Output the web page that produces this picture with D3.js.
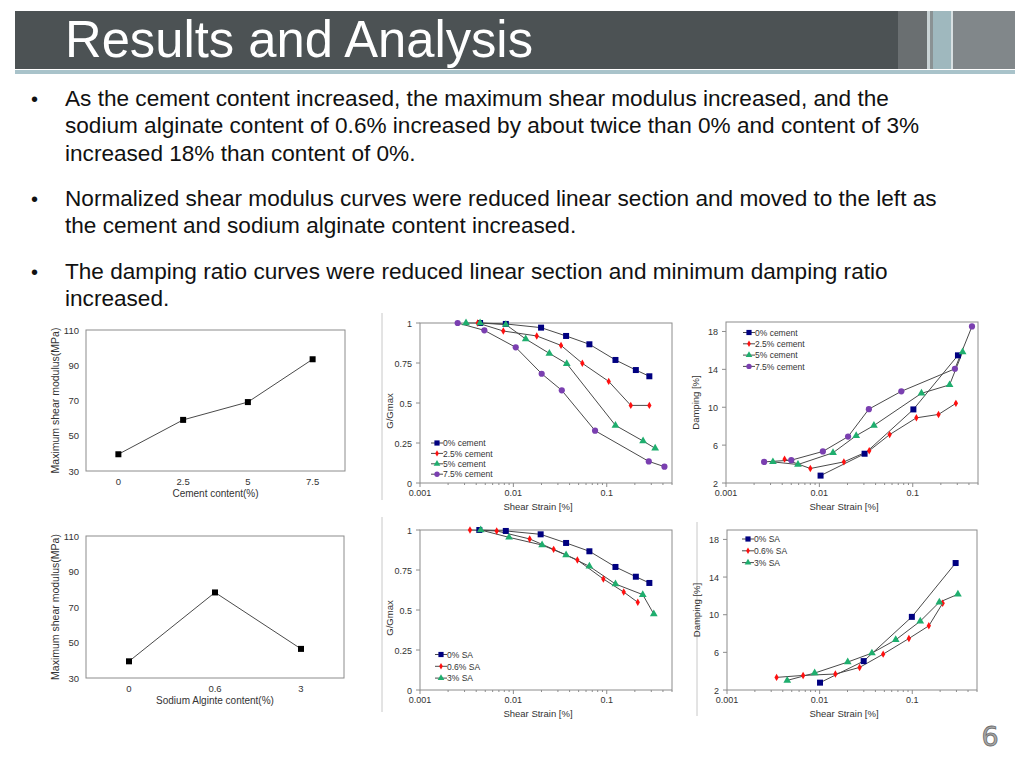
<!DOCTYPE html>
<html><head><meta charset="utf-8">
<script src="https://cdn.jsdelivr.net/npm/d3@7"></script>
<style>
body{margin:0;background:#fff;}
svg{display:block;}
</style></head>
<body>
<svg id="s" width="1024" height="768"></svg>
<script>
// ---------- DATA ----------
const titleText = "Results and Analysis";
const bullets = [
  ["As the cement content increased, the maximum shear modulus increased, and the",
   "sodium alginate content of 0.6% increased by about twice than 0% and content of 3%",
   "increased 18% than content of 0%."],
  ["Normalized shear modulus curves were reduced linear section and moved to the left as",
   "the cement and sodium alginate content increased."],
  ["The damping ratio curves were reduced linear section and minimum damping ratio",
   "increased."]
];
const cementCats = ["0","2.5","5","7.5"];
const cementGmax = [39.5, 59, 69.1, 93.4];
const saCats = ["0","0.6","3"];
const saGmax = [39.4, 78.2, 46.4];
const gmaxTicks = [30,50,70,90,110];

const cementNames = ["0% cement","2.5% cement","5% cement","7.5% cement"];
// G/Gmax vs shear strain, cement
const ggC0 = [[0.0044,1.0],[0.0083,0.994],[0.0198,0.971],[0.0367,0.919],[0.0652,0.867],[0.124,0.769],[0.205,0.706],[0.286,0.667]];
const ggC25 = [[0.00415,1.0],[0.0078,0.95],[0.0178,0.919],[0.0324,0.86],[0.0548,0.748],[0.105,0.635],[0.181,0.485],[0.286,0.485]];
const ggC5 = [[0.00311,1.0],[0.0044,1.0],[0.0083,0.99],[0.01356,0.9],[0.0243,0.81],[0.0373,0.746],[0.124,0.36],[0.245,0.2625],[0.33,0.217]];
const ggC75 = [[0.00253,1.0],[0.00489,0.954],[0.0106,0.848],[0.0201,0.683],[0.033,0.579],[0.075,0.327],[0.282,0.135],[0.415,0.102]];
// Damping vs shear strain, cement
const dC0 = [[0.0103,2.78],[0.0305,5.09],[0.1016,9.77],[0.305,15.48]];
const dC25 = [[0.00424,4.52],[0.008,3.53],[0.0183,4.23],[0.0342,5.41],[0.0566,7.11],[0.1094,8.88],[0.1888,9.24],[0.29,10.41]];
const dC5 = [[0.00318,4.23],[0.0059,3.95],[0.014,5.19],[0.0248,7.0],[0.0384,8.07],[0.124,11.47],[0.248,12.36],[0.342,15.83]];
const dC75 = [[0.00256,4.23],[0.005,4.41],[0.0109,5.33],[0.0203,6.9],[0.0339,9.8],[0.0755,11.68],[0.283,14.06],[0.431,18.53]];

const saNames = ["0% SA","0.6% SA","3%  SA"];
const ggS0 = [[0.00432,1.0],[0.0083,0.994],[0.0196,0.973],[0.0367,0.919],[0.0652,0.867],[0.124,0.769],[0.205,0.708],[0.286,0.669]];
const ggS06 = [[0.00343,1.0],[0.00663,0.994],[0.01496,0.944],[0.027,0.879],[0.0485,0.8125],[0.092,0.694],[0.152,0.6125],[0.215,0.548]];
const ggS3 = [[0.00447,1.0],[0.00899,0.954],[0.0203,0.906],[0.0367,0.844],[0.0652,0.773],[0.124,0.6625],[0.243,0.596],[0.319,0.475]];
const dS0 = [[0.0101,2.78],[0.0299,5.07],[0.099,9.77],[0.294,15.49]];
const dS06 = [[0.00343,3.34],[0.00663,3.55],[0.0148,3.7],[0.027,4.4],[0.0485,5.81],[0.092,7.47],[0.151,8.82],[0.213,11.22]];
const dS3 = [[0.00447,3.02],[0.00884,3.8],[0.0201,4.97],[0.0367,5.92],[0.0663,7.33],[0.122,9.31],[0.196,11.33],[0.311,12.17]];

const strainTicks = [0.001,0.01,0.1];
const ggTicks = [0,0.25,0.5,0.75,1];
const dampTicks = [2,6,10,14,18];

// ---------- STYLE ----------
const svg = d3.select("#s");
const FONT = "'Liberation Sans', Arial, sans-serif";
const markerColors = ["#000080","#ff1010","#1fae6e","#7a3fb0"];
const markerTypes = [d3.symbolSquare, d3.symbolDiamond, d3.symbolTriangle, d3.symbolCircle];
const markerSizes = [36, 16, 26, 30];
const lineColor = "#4a4a4a";
const txt = "#333";

// ---------- HEADER ----------
svg.append("rect").attr("x",15).attr("y",11).attr("width",883).attr("height",58).attr("fill","#4c5254");
svg.append("rect").attr("x",898).attr("y",11).attr("width",29).attr("height",58).attr("fill","#6a6f71");
svg.append("rect").attr("x",927).attr("y",11).attr("width",3).attr("height",58).attr("fill","#c9d3d5");
svg.append("rect").attr("x",930).attr("y",11).attr("width",3).attr("height",58).attr("fill","#8a9294");
svg.append("rect").attr("x",933).attr("y",11).attr("width",18).attr("height",58).attr("fill","#9fb8be");
svg.append("rect").attr("x",951).attr("y",11).attr("width",2).attr("height",58).attr("fill","#d8e0e2");
svg.append("rect").attr("x",953).attr("y",11).attr("width",62).attr("height",58).attr("fill","#81878a");
svg.append("rect").attr("x",15).attr("y",70).attr("width",1000).attr("height",4).attr("fill","#a9c3ca");
svg.append("text").attr("x",65).attr("y",57).text(titleText)
  .attr("font-family","'Liberation Sans Narrow','Arial Narrow','Liberation Sans',sans-serif")
  .attr("font-size",52).attr("fill","#fff").attr("textLength",468).attr("lengthAdjust","spacingAndGlyphs");

// ---------- BULLETS ----------
const bulletTop = [106, 206, 279];
bullets.forEach((lines,i)=>{
  svg.append("text").attr("x",31).attr("y",bulletTop[i]).text("•")
    .attr("font-family",FONT).attr("font-size",20).attr("fill","#111");
  lines.forEach((l,j)=>{
    svg.append("text").attr("x",65).attr("y",bulletTop[i]+j*27.3).text(l)
      .attr("font-family",FONT).attr("font-size",22.6).attr("fill","#111");
  });
});

// faint separators (picture borders)
[[382,313,500],[382,517,712],[697,522,716]].forEach(d=>{
  svg.append("line").attr("x1",d[0]).attr("x2",d[0]).attr("y1",d[1]).attr("y2",d[2])
    .attr("stroke","#c8c8c8").attr("stroke-width",1);
});

// ---------- CATEGORY CHARTS ----------
function catChart(box, cats, vals, xTitle){
  const g = svg.append("g");
  const x = d3.scalePoint().domain(cats).range([box.l, box.r]).padding(0.5);
  const y = d3.scaleLinear().domain([30,110]).range([box.b, box.t]);
  g.append("rect").attr("x",box.l).attr("y",box.t).attr("width",box.r-box.l).attr("height",box.b-box.t)
    .attr("fill","none").attr("stroke","#8c8c8c").attr("stroke-width",1);
  gmaxTicks.forEach(t=>{
    g.append("text").attr("x",box.l-7).attr("y",y(t)+3.5).attr("text-anchor","end").text(t)
      .attr("font-family",FONT).attr("font-size",9.5).attr("fill",txt);
  });
  cats.forEach(c=>{
    g.append("text").attr("x",x(c)).attr("y",box.b+14).attr("text-anchor","middle").text(c)
      .attr("font-family",FONT).attr("font-size",9.5).attr("fill",txt);
  });
  g.append("text").attr("x",(box.l+box.r)/2).attr("y",box.b+26).attr("text-anchor","middle").text(xTitle)
    .attr("font-family",FONT).attr("font-size",10).attr("fill",txt);
  g.append("text").attr("transform",`translate(${box.l-27},${(box.t+box.b)/2}) rotate(-90)`)
    .attr("text-anchor","middle").text("Maximum shear modulus(MPa)")
    .attr("font-family",FONT).attr("font-size",10.5).attr("fill",txt);
  const line = d3.line().x((d,i)=>x(cats[i])).y(d=>y(d));
  g.append("path").attr("d",line(vals)).attr("fill","none").attr("stroke",lineColor).attr("stroke-width",1);
  g.selectAll("rect.m").data(vals).enter().append("rect").attr("class","m")
    .attr("x",(d,i)=>x(cats[i])-3).attr("y",d=>y(d)-3).attr("width",6).attr("height",6).attr("fill","#000");
}
catChart({l:86,r:345,t:330,b:471}, cementCats, cementGmax, "Cement content(%)");
catChart({l:86,r:344,t:536,b:678}, saCats, saGmax, "Sodium Alginte content(%)");

// ---------- LOG CHARTS ----------
function logChart(box, ydom, yticks, yTitle, series, names, legend){
  const g = svg.append("g");
  const x = d3.scaleLog().domain([0.001,0.5]).range([box.l, box.r]);
  const y = d3.scaleLinear().domain(ydom).range([box.b, box.t]);
  g.append("rect").attr("x",box.l).attr("y",box.t).attr("width",box.r-box.l).attr("height",box.b-box.t)
    .attr("fill","none").attr("stroke","#8c8c8c").attr("stroke-width",1);
  yticks.forEach(t=>{
    g.append("line").attr("x1",box.l-4).attr("x2",box.l).attr("y1",y(t)).attr("y2",y(t)).attr("stroke","#8c8c8c");
    g.append("text").attr("x",box.l-8).attr("y",y(t)+3.5).attr("text-anchor","end").text(String(t))
      .attr("font-family",FONT).attr("font-size",9).attr("fill",txt);
  });
  const minor = [];
  [0.001,0.01,0.1].forEach(dec=>{ for(let k=1;k<10;k++){ const v=dec*k; if(v<=0.5) minor.push(v);} });
  minor.forEach(v=>{
    const maj = strainTicks.includes(v);
    g.append("line").attr("x1",x(v)).attr("x2",x(v)).attr("y1",box.b).attr("y2",box.b+(maj?4:2))
      .attr("stroke","#8c8c8c");
  });
  strainTicks.forEach(t=>{
    g.append("text").attr("x",x(t)).attr("y",box.b+13).attr("text-anchor","middle").text(String(t))
      .attr("font-family",FONT).attr("font-size",9).attr("fill",txt);
  });
  g.append("text").attr("x",(box.l+box.r)/2 - 8).attr("y",box.b+27).attr("text-anchor","middle").text("Shear Strain [%]")
    .attr("font-family",FONT).attr("font-size",9.5).attr("fill",txt);
  g.append("text").attr("transform",`translate(${box.l-27},${(box.t+box.b)/2 + (yTitle==="G/Gmax"?8:0)}) rotate(-90)`)
    .attr("text-anchor","middle").text(yTitle)
    .attr("font-family",FONT).attr("font-size",9.5).attr("fill",txt);
  const line = d3.line().x(d=>x(d[0])).y(d=>y(d[1]));
  series.forEach(s=>{
    g.append("path").attr("d",line(s)).attr("fill","none").attr("stroke",lineColor).attr("stroke-width",1);
  });
  series.forEach((s,i)=>{
    g.selectAll(null).data(s).enter().append("path")
      .attr("d",d3.symbol().type(markerTypes[i]).size(markerSizes[i]))
      .attr("transform",d=>`translate(${x(d[0])},${y(d[1])})`)
      .attr("fill",markerColors[i]);
  });
  names.forEach((n,i)=>{
    const ly = legend.y + i*legend.dy;
    g.append("line").attr("x1",legend.x-6).attr("x2",legend.x+6).attr("y1",ly).attr("y2",ly)
      .attr("stroke",lineColor).attr("stroke-width",1);
    g.append("path").attr("d",d3.symbol().type(markerTypes[i]).size(markerSizes[i]*0.75))
      .attr("transform",`translate(${legend.x},${ly})`).attr("fill",markerColors[i]);
    g.append("text").attr("x",legend.x+6).attr("y",ly+3.2).text(n)
      .attr("font-family",FONT).attr("font-size",8.5).attr("fill",txt);
  });
}
logChart({l:420,r:672,t:323,b:483},[0,1],ggTicks,"G/Gmax",[ggC0,ggC25,ggC5,ggC75],cementNames,{x:437,y:443,dy:10.4});
logChart({l:726,r:978,t:322,b:483},[2,19],dampTicks,"Damping [%]",[dC0,dC25,dC5,dC75],cementNames,{x:749,y:332.5,dy:11.3});
logChart({l:420,r:672,t:530,b:690},[0,1],ggTicks,"G/Gmax",[ggS0,ggS06,ggS3],saNames,{x:441,y:654.5,dy:11.8});
logChart({l:727,r:977,t:530,b:690},[2,19],dampTicks,"Damping [%]",[dS0,dS06,dS3],saNames,{x:748,y:539,dy:11.8});

// page number
svg.append("text").attr("x",990).attr("y",746).attr("text-anchor","middle").text("6")
  .attr("font-family","'DejaVu Sans',sans-serif").attr("font-size",27)
  .attr("fill","#a8a8a8").attr("stroke","#6a6a6a").attr("stroke-width",0.8);
</script>
</body></html>
